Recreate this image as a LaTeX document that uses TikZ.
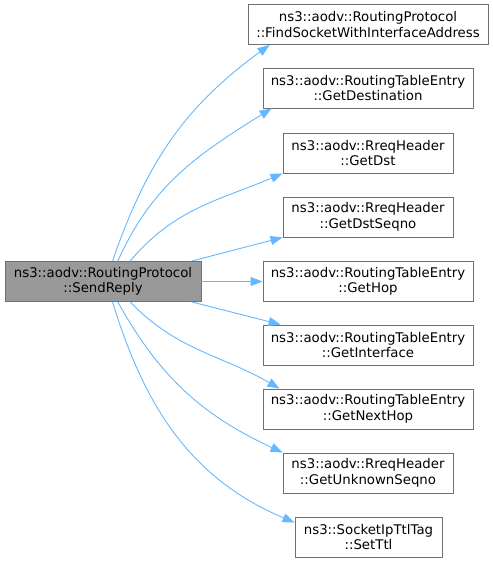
\documentclass[tikz,border=0pt]{standalone}
\usepackage{fontspec}
\setmainfont{DejaVu Sans}
\usetikzlibrary{arrows.meta,calc}
\definecolor{callblue}{HTML}{63B8FF}
\definecolor{boxgray}{HTML}{707070}
\definecolor{mainfill}{HTML}{999999}

\begin{document}
\begin{tikzpicture}[x=1pt,y=1pt]
\path [use as bounding box] (0,0) rectangle (493,-563);
\tikzstyle{func} = [draw=boxgray, line width=0.9pt, fill=white, minimum height=40pt, inner sep=1pt, align=center, font=\fontsize{13.3}{15.5}\selectfont]
\tikzstyle{call} = [draw=callblue, line width=0.9pt, -{Triangle[length=12pt,width=9pt]}]
% caller
\node[func, fill=mainfill, minimum width=196pt] (send) at (103,-281.5) {ns3::aodv::RoutingProtocol\\::SendReply};
% callees
\node[func, minimum width=240pt] (find) at (368,-24.5) {ns3::aodv::RoutingProtocol\\::FindSocketWithInterfaceAddress};
\node[func, minimum width=210pt] (dest) at (368,-88) {ns3::aodv::RoutingTableEntry\\::GetDestination};
\node[func, minimum width=170pt] (dst) at (368,-153) {ns3::aodv::RreqHeader\\::GetDst};
\node[func, minimum width=170pt] (dstseq) at (368,-217) {ns3::aodv::RreqHeader\\::GetDstSeqno};
\node[func, minimum width=210pt] (hop) at (368,-281.5) {ns3::aodv::RoutingTableEntry\\::GetHop};
\node[func, minimum width=210pt] (iface) at (368,-345) {ns3::aodv::RoutingTableEntry\\::GetInterface};
\node[func, minimum width=210pt] (nexthop) at (368,-409) {ns3::aodv::RoutingTableEntry\\::GetNextHop};
\node[func, minimum width=170pt] (unknown) at (368,-473) {ns3::aodv::RreqHeader\\::GetUnknownSeqno};
\node[func, minimum width=147pt] (ttl) at (368.5,-537) {ns3::SocketIpTtlTag\\::SetTtl};
% calls
	\draw[call] (send.65) to[out=71,in=-144] ($(find.south west)+(22,0)$);
	\draw[call] (send.54) to[out=66,in=-148] ($(dest.south west)+(9,0)$);
	\draw[call] (send.37) to[out=50,in=-157] (dst.south west);
	\draw[call] (send.13) -- (dstseq.south west);
	\draw[call] (send.east) -- (hop.west);
	\draw[call] (send.-13) -- ($(iface.north west)+(18,0)$);
	\draw[call] (send.-37) to[out=-46,in=150] ($(nexthop.north west)+(17,0)$);
	\draw[call] (send.-54) to[out=-61,in=155] (unknown.north west);
	\draw[call] (send.-65) to[out=-73,in=157] ($(ttl.north west)+(0,-6)$);
\end{tikzpicture}
\end{document}
